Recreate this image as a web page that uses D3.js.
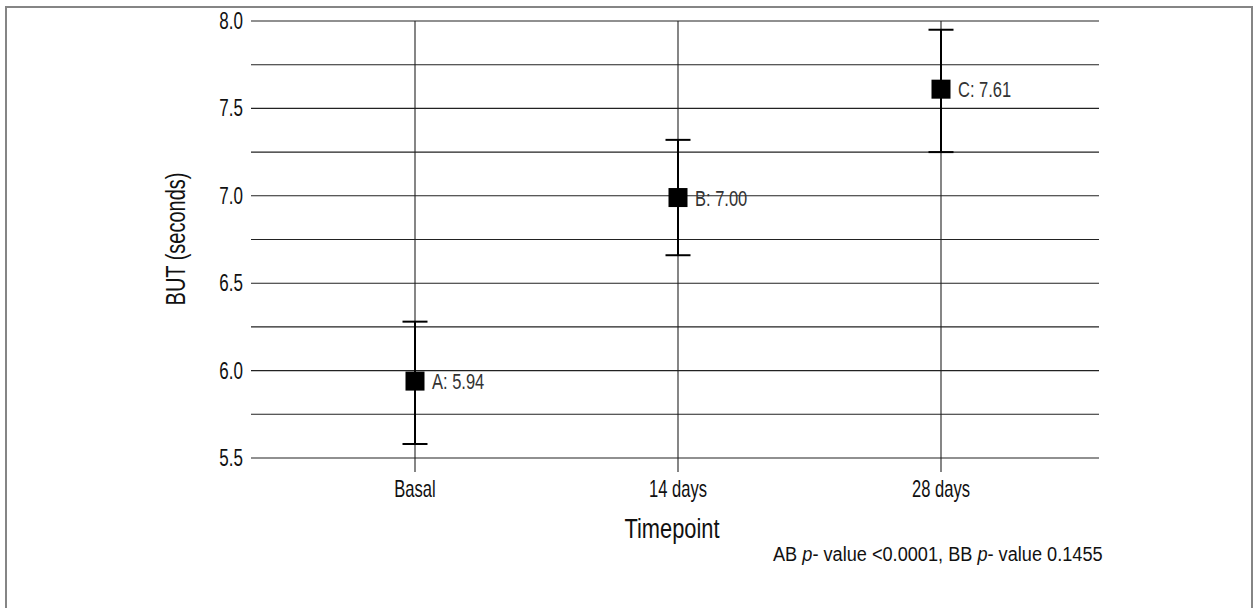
<!DOCTYPE html>
<html>
<head>
<meta charset="utf-8">
<script src="https://cdn.jsdelivr.net/npm/d3@7"></script>
<style>
  body { margin: 0; background: #fff; }
  svg text { font-family: "Liberation Sans", Arial, sans-serif; fill: #111; }
</style>
</head>
<body>
<div id="chart"></div>
<script>
// data
const timepoints = ["Basal", "14 days", "28 days"];
const means = [5.94, 6.99, 7.61];
const lower = [5.58, 6.66, 7.25];
const upper = [6.28, 7.32, 7.95];
const pointLabels = ["A: 5.94", "B: 7.00", "C: 7.61"];
const yTicks = [5.5, 6.0, 6.5, 7.0, 7.5, 8.0];
const yGrid = [5.5, 5.75, 6.0, 6.25, 6.5, 6.75, 7.0, 7.25, 7.5, 7.75, 8.0];
const footnote = ["AB ", "p", "- value <0.0001, BB ", "p", "- value 0.1455"];

const W = 1256, H = 608;
const plot = { left: 251, right: 1099, top: 21, bottom: 458 };

const svg = d3.select("#chart").append("svg")
  .attr("width", W).attr("height", H);

// no condensed face is installed, so squeeze text horizontally
function narrow(sel, x, y, size, sx) {
  return sel.attr("transform", d => `translate(${x(d)},${y(d)}) scale(${sx},1)`)
    .style("font-size", size + "px");
}

// outer frame (bottom edge runs off the picture)
svg.append("rect")
  .attr("x", 6).attr("y", 7).attr("width", 1246).attr("height", 640)
  .attr("fill", "none").attr("stroke", "#858585").attr("stroke-width", 2);

const scY = d3.scaleLinear().domain([5.5, 8.0]).range([plot.bottom, plot.top]);
const scX = d3.scalePoint().domain(timepoints).range([415, 941]);

// horizontal grid
svg.append("g").selectAll("line").data(yGrid).enter()
  .append("line")
  .attr("x1", plot.left).attr("x2", plot.right)
  .attr("y1", d => scY(d)).attr("y2", d => scY(d))
  .attr("stroke", "#222").attr("stroke-width", 1.1);

// vertical grid, running a little below the plot like ticks
svg.append("g").selectAll("line").data(timepoints).enter()
  .append("line")
  .attr("x1", d => scX(d)).attr("x2", d => scX(d))
  .attr("y1", plot.top).attr("y2", plot.bottom + 14)
  .attr("stroke", "#222").attr("stroke-width", 1.1);

// y tick labels
narrow(svg.append("g").selectAll("text").data(yTicks).enter().append("text"),
    () => 243, d => scY(d) + 8, 23, 0.74)
  .attr("text-anchor", "end")
  .text(d => d.toFixed(1));

// x tick labels
narrow(svg.append("g").selectAll("text").data(timepoints).enter().append("text"),
    d => scX(d), () => 497, 23, 0.72)
  .attr("text-anchor", "middle")
  .text(d => d);

// axis titles
narrow(svg.append("text").datum(0), () => (plot.left + plot.right) / 2 - 3, () => 538, 28, 0.78)
  .attr("text-anchor", "middle")
  .text("Timepoint");

svg.append("text")
  .attr("transform", "translate(185,239) rotate(-90) scale(0.74,1)")
  .attr("text-anchor", "middle")
  .style("font-size", "27px")
  .text("BUT (seconds)");

// error bars
const bars = svg.append("g");
const idx = d3.range(timepoints.length);
bars.selectAll("line.v").data(idx).enter()
  .append("line").attr("class", "v")
  .attr("x1", i => scX(timepoints[i])).attr("x2", i => scX(timepoints[i]))
  .attr("y1", i => scY(lower[i])).attr("y2", i => scY(upper[i]))
  .attr("stroke", "#000").attr("stroke-width", 2);

[lower, upper].forEach(arr => {
  bars.append("g").selectAll("line").data(idx).enter()
    .append("line")
    .attr("x1", i => scX(timepoints[i]) - 12.5).attr("x2", i => scX(timepoints[i]) + 12.5)
    .attr("y1", i => scY(arr[i])).attr("y2", i => scY(arr[i]))
    .attr("stroke", "#000").attr("stroke-width", 2);
});

// mean markers
const sq = 19;
bars.selectAll("rect").data(idx).enter()
  .append("rect")
  .attr("x", i => scX(timepoints[i]) - sq / 2)
  .attr("y", i => scY(means[i]) - sq / 2)
  .attr("width", sq).attr("height", sq)
  .attr("fill", "#000");

narrow(bars.selectAll("text").data(idx).enter().append("text"),
    i => scX(timepoints[i]) + 17, i => scY(means[i]) + 8, 22, 0.75)
  .style("fill", "#333")
  .text(i => pointLabels[i]);

// p-value note
const note = narrow(svg.append("text").datum(0), () => 773, () => 561, 21, 0.865);
note.selectAll("tspan").data(footnote).enter()
  .append("tspan")
  .style("font-style", d => d === "p" ? "italic" : "normal")
  .text(d => d);
</script>
</body>
</html>
